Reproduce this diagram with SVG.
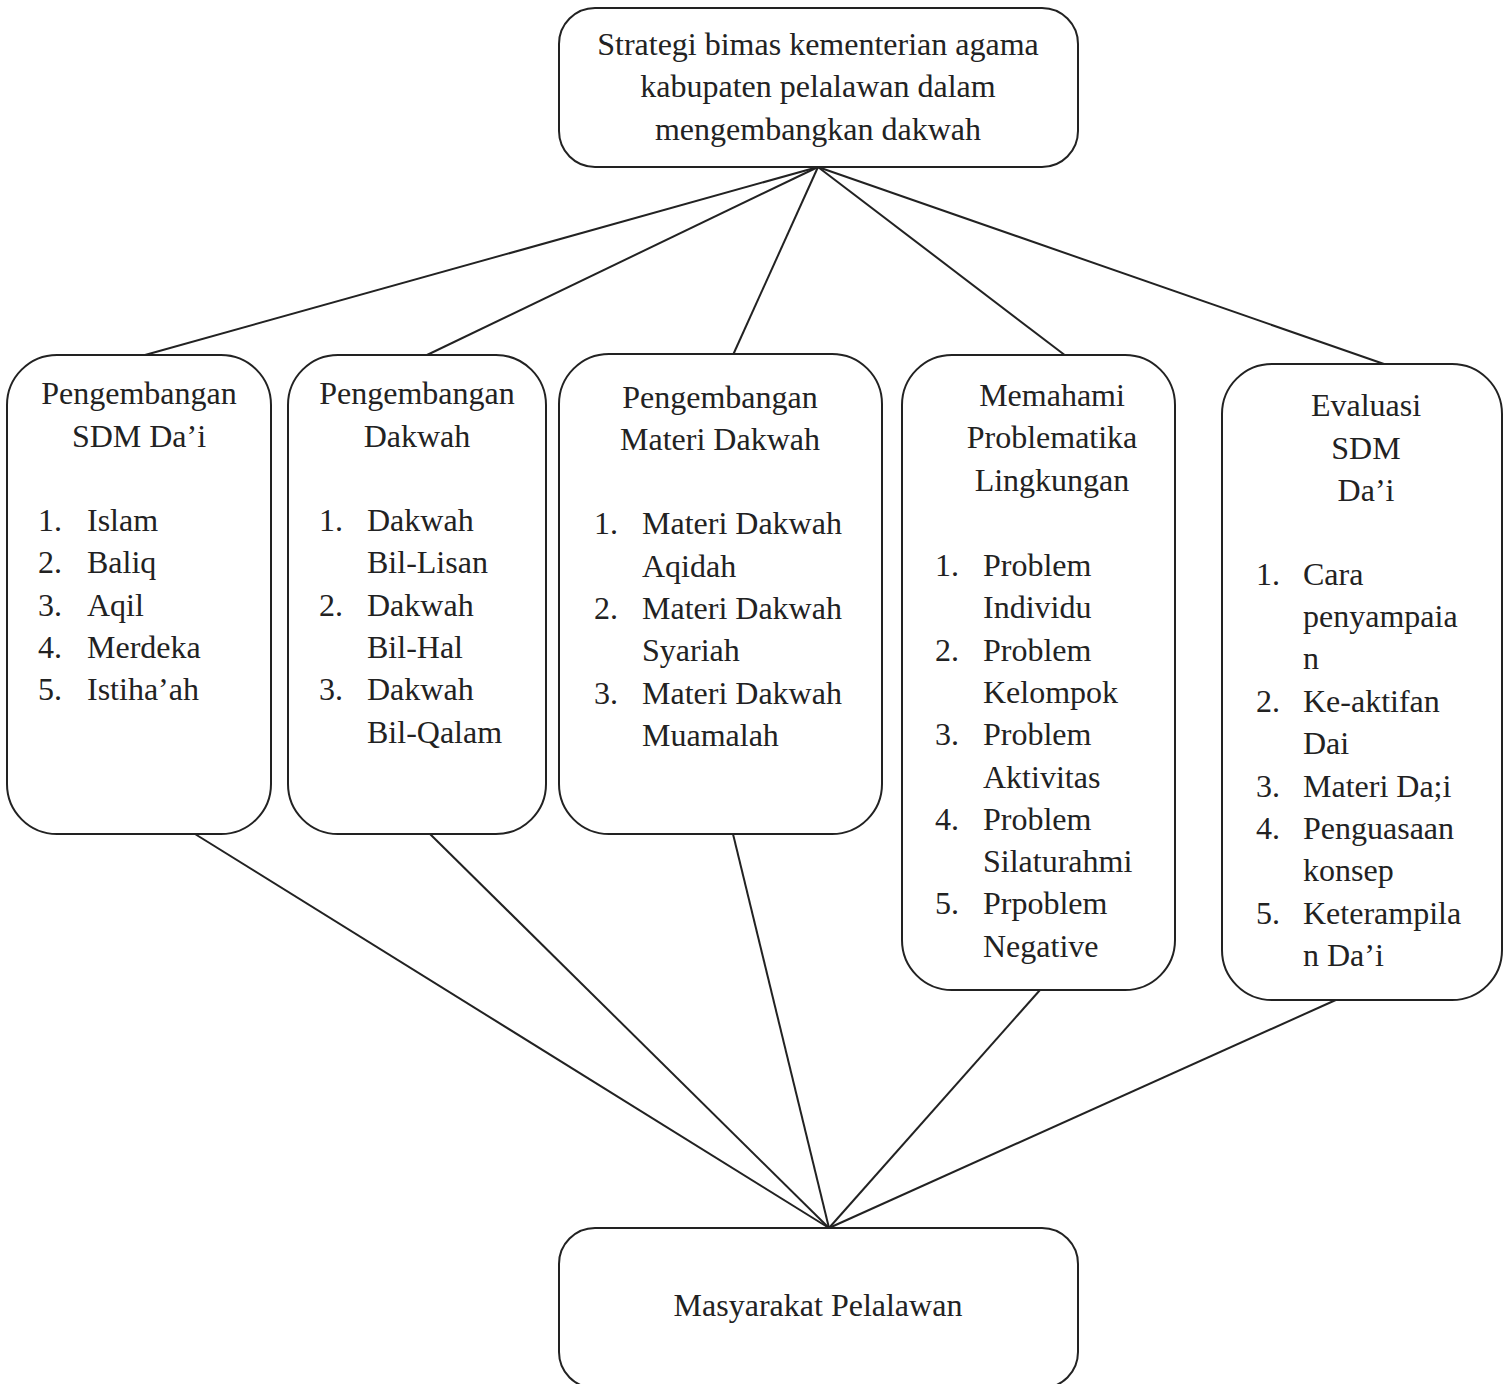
<svg xmlns="http://www.w3.org/2000/svg" width="1507" height="1384" viewBox="0 0 1507 1384">
<style>
.box{fill:#fff;stroke:#222;stroke-width:2}
.c line{stroke:#222;stroke-width:2}
text{font-family:"Liberation Serif","Times New Roman",serif;font-size:32px;fill:#222}
.m{text-anchor:middle}
</style>
<rect width="1507" height="1384" fill="#fff"/>
<g class="c" id="connectors">
<line x1="818" y1="167" x2="145" y2="355"/>
<line x1="818" y1="167" x2="427" y2="355"/>
<line x1="818" y1="167" x2="733" y2="355"/>
<line x1="818" y1="167" x2="1066" y2="356"/>
<line x1="818" y1="167" x2="1384" y2="364"/>
<line x1="195" y1="834" x2="829" y2="1228"/>
<line x1="430" y1="834" x2="829" y2="1228"/>
<line x1="733" y1="834" x2="829" y2="1228"/>
<line x1="1040" y1="990" x2="829" y2="1228"/>
<line x1="1338" y1="999" x2="829" y2="1228"/>
</g>
<g id="top">
<rect class="box" x="559" y="8" width="519" height="159" rx="36"/>
<text class="m" x="818" y="55">Strategi bimas kementerian agama</text>
<text class="m" x="818" y="97">kabupaten pelalawan dalam</text>
<text class="m" x="818" y="140">mengembangkan dakwah</text>
</g>
<g id="n1">
<rect class="box" x="7" y="355" width="264" height="479" rx="50"/>
<text class="m" x="139" y="404">Pengembangan</text>
<text class="m" x="139" y="447">SDM Da’i</text>
<text x="38" y="531">1.</text><text x="87" y="531">Islam</text>
<text x="38" y="573">2.</text><text x="87" y="573">Baliq</text>
<text x="38" y="616">3.</text><text x="87" y="616">Aqil</text>
<text x="38" y="658">4.</text><text x="87" y="658">Merdeka</text>
<text x="38" y="700">5.</text><text x="87" y="700">Istiha’ah</text>
</g>
<g id="n2">
<rect class="box" x="288" y="355" width="258" height="479" rx="50"/>
<text class="m" x="417" y="404">Pengembangan</text>
<text class="m" x="417" y="447">Dakwah</text>
<text x="319" y="531">1.</text><text x="367" y="531">Dakwah</text>
<text x="367" y="573">Bil-Lisan</text>
<text x="319" y="616">2.</text><text x="367" y="616">Dakwah</text>
<text x="367" y="658">Bil-Hal</text>
<text x="319" y="700">3.</text><text x="367" y="700">Dakwah</text>
<text x="367" y="743">Bil-Qalam</text>
</g>
<g id="n3">
<rect class="box" x="559" y="354" width="323" height="480" rx="50"/>
<text class="m" x="720" y="408">Pengembangan</text>
<text class="m" x="720" y="450">Materi Dakwah</text>
<text x="594" y="534">1.</text><text x="642" y="534">Materi Dakwah</text>
<text x="642" y="577">Aqidah</text>
<text x="594" y="619">2.</text><text x="642" y="619">Materi Dakwah</text>
<text x="642" y="661">Syariah</text>
<text x="594" y="704">3.</text><text x="642" y="704">Materi Dakwah</text>
<text x="642" y="746">Muamalah</text>
</g>
<g id="n4">
<rect class="box" x="902" y="355" width="273" height="635" rx="50"/>
<text class="m" x="1052" y="406">Memahami</text>
<text class="m" x="1052" y="448">Problematika</text>
<text class="m" x="1052" y="491">Lingkungan</text>
<text x="935" y="576">1.</text><text x="983" y="576">Problem</text>
<text x="983" y="618">Individu</text>
<text x="935" y="661">2.</text><text x="983" y="661">Problem</text>
<text x="983" y="703">Kelompok</text>
<text x="935" y="745">3.</text><text x="983" y="745">Problem</text>
<text x="983" y="788">Aktivitas</text>
<text x="935" y="830">4.</text><text x="983" y="830">Problem</text>
<text x="983" y="872">Silaturahmi</text>
<text x="935" y="914">5.</text><text x="983" y="914">Prpoblem</text>
<text x="983" y="957">Negative</text>
</g>
<g id="n5">
<rect class="box" x="1222" y="364" width="280" height="636" rx="50"/>
<text class="m" x="1366" y="416">Evaluasi</text>
<text class="m" x="1366" y="459">SDM</text>
<text class="m" x="1366" y="501">Da’i</text>
<text x="1256" y="585">1.</text><text x="1303" y="585">Cara</text>
<text x="1303" y="627">penyampaia</text>
<text x="1303" y="669">n</text>
<text x="1256" y="712">2.</text><text x="1303" y="712">Ke-aktifan</text>
<text x="1303" y="754">Dai</text>
<text x="1256" y="797">3.</text><text x="1303" y="797">Materi Da;i</text>
<text x="1256" y="839">4.</text><text x="1303" y="839">Penguasaan</text>
<text x="1303" y="881">konsep</text>
<text x="1256" y="924">5.</text><text x="1303" y="924">Keterampila</text>
<text x="1303" y="966">n Da’i</text>
</g>
<g id="bottom">
<rect class="box" x="559" y="1228" width="519" height="160" rx="36"/>
<text class="m" x="818" y="1316">Masyarakat Pelalawan</text>
</g>
</svg>
